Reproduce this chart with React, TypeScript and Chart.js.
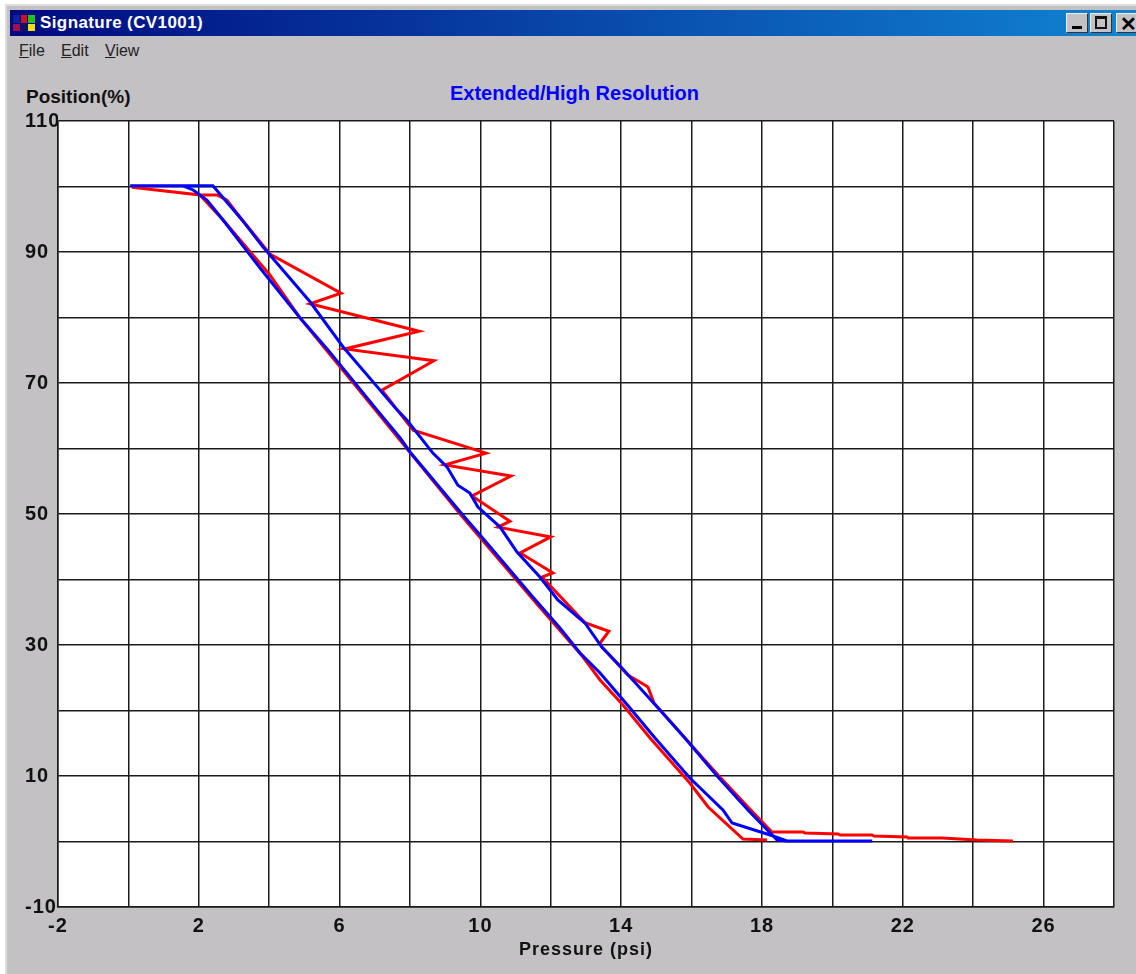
import React, { useEffect, useRef } from "react";
import { Chart, registerables } from "chart.js";

Chart.register(...registerables);

const windowTitle = "Signature (CV1001)";
const menuItems = ["File", "Edit", "View"];
const chartTitle = "Extended/High Resolution";
const yAxisTitle = "Position(%)";
const xAxisTitle = "Pressure (psi)";

const xLabelled = [-2, 2, 6, 10, 14, 18, 22, 26];
const yLabelled = [-10, 10, 30, 50, 70, 90, 110];

const redPressure = [25.13, 24.11, 23.11, 22.15, 22.12, 21.18, 21.13, 20.22, 20.16, 19.22, 19.16, 18.28, 17.6, 16.75, 15.81, 14.93, 14.9, 14.76, 14.48, 14.19, 13.45, 13.4, 13.65, 12.97, 11.75, 12.06, 11.13, 12.0, 10.5, 10.84, 9.76, 10.87, 8.99, 10.16, 8.09, 7.2, 8.68, 6.15, 8.26, 5.16, 6.04, 4.02, 3.17, 2.8, 2.52, 2.03, 0.1, 2.03, 2.69, 4.02, 4.88, 7.06, 9.5, 11.49, 12.91, 13.4, 14.05, 14.82, 15.95, 16.47, 17.46, 18.14];
const redPosition = [0.08, 0.23, 0.53, 0.53, 0.69, 0.84, 0.99, 0.99, 1.15, 1.3, 1.45, 1.45, 5.27, 10.15, 15.8, 21.15, 21.6, 23.6, 24.5, 25.4, 29.7, 30.3, 32.1, 33.4, 40.38, 41, 44.05, 46.5, 48.0, 48.9, 52.75, 55.8, 57.5, 59.3, 62.8, 68.9, 73.4, 75.2, 77.9, 82.1, 83.7, 89.7, 95.3, 97.9, 98.7, 98.7, 99.9, 98.7, 94.9, 86.5, 79.9, 65.6, 49.5, 37, 28.2, 24.66, 20.84, 15.8, 8.93, 5.27, 0.38, 0.23];

const bluePressure = [21.13, 18.71, 18.23, 17.15, 16.89, 15.95, 14.96, 14.25, 13.4, 12.83, 12.26, 11.49, 9.99, 9.5, 8.0, 7.72, 7.06, 5.67, 4.88, 3.74, 2.69, 2.23, 1.84, 1.55, 0.05, 1.55, 2.4, 3.23, 3.82, 5.16, 6.1, 7.63, 7.91, 8.65, 9.05, 9.36, 9.7, 9.93, 10.56, 11.04, 11.69, 12.2, 12.97, 13.45, 14.02, 15.1, 15.81, 16.75, 17.6, 18.43, 18.71];
const bluePosition = [0.08, 0.08, 0.99, 2.82, 4.81, 9.69, 15.8, 20.38, 25.73, 28.78, 32.6, 37.33, 46.8, 49.85, 59.47, 61.6, 65.9, 75.05, 79.92, 87.56, 94.89, 97.94, 99.47, 100.1, 100.1, 100.1, 100.1, 94.9, 90.8, 82.4, 75.5, 65.9, 64.35, 59.3, 57.2, 54.4, 53.2, 51.07, 48.0, 44.2, 40.38, 36.87, 33.36, 29.69, 26.49, 20.08, 15.8, 9.85, 4.81, 0.23, 0.08];

const toPoints = (xs: number[], ys: number[]) => xs.map((x, i) => ({ x, y: ys[i] }));

const FONT = '"Liberation Sans", Arial, sans-serif';
const GRAY = "#c4c1c5";

const plotBackground = {
  id: "plotBackground",
  beforeDraw(chart: any) {
    const { ctx, chartArea: a } = chart;
    ctx.letterSpacing = "1px";
    ctx.save();
    ctx.fillStyle = "#ffffff";
    ctx.fillRect(a.left, a.top, a.right - a.left, a.bottom - a.top);
    ctx.restore();
  },
};

const winButton = (left: number, glyph: React.ReactNode) => (
  <div
    style={{
      position: "absolute",
      left,
      top: 13,
      width: 22,
      height: 20,
      background: GRAY,
      borderTop: "1px solid #eee",
      borderLeft: "1px solid #eee",
      borderRight: "1px solid #333",
      borderBottom: "1px solid #333",
      boxSizing: "border-box",
    }}
  >
    {glyph}
  </div>
);

export default function App() {
  const ref = useRef<HTMLCanvasElement | null>(null);

  useEffect(() => {
    document.body.style.margin = "0";
    const chart = new Chart(ref.current as HTMLCanvasElement, {
      type: "scatter",
      data: {
        datasets: [
          {
            label: "Red",
            data: toPoints(redPressure, redPosition),
            showLine: true,
            borderColor: "#ff0000",
            borderWidth: 3,
            pointRadius: 0,
            tension: 0,
            order: 2,
          },
          {
            label: "Blue",
            data: toPoints(bluePressure, bluePosition),
            showLine: true,
            borderColor: "#0000ff",
            borderWidth: 3,
            pointRadius: 0,
            tension: 0,
            order: 1,
          },
        ],
      },
      options: {
        animation: false,
        responsive: false,
        layout: { padding: { left: 15, right: 22, top: 55, bottom: 0 } },
        plugins: {
          legend: { display: false },
          tooltip: { enabled: false },
          title: { display: false },
        },
        scales: {
          x: {
            type: "linear",
            min: -2,
            max: 28,
            afterFit: (s: any) => {
              s.height = 67;
            },
            ticks: {
              stepSize: 2,
              autoSkip: false,
              maxRotation: 0,
              padding: 7,
              color: "#111",
              font: { family: FONT, size: 20, weight: "bold" },
              callback: (v: any) => (xLabelled.includes(Number(v)) ? String(v) : ""),
            },
            grid: { color: "#1a1a1a", lineWidth: 1.5, drawTicks: false },
            border: { color: "#1a1a1a", width: 1.5 },
            title: {
              display: true,
              text: xAxisTitle,
              color: "#111",
              font: { family: FONT, size: 18, weight: "bold" },
              padding: { top: 0, bottom: 13 },
            },
          },
          y: {
            type: "linear",
            min: -10,
            max: 110,
            afterFit: (s: any) => {
              s.width = 33;
            },
            ticks: {
              stepSize: 10,
              autoSkip: false,
              crossAlign: "far",
              padding: 4,
              color: "#111",
              font: { family: FONT, size: 20, weight: "bold" },
              callback: (v: any) => (yLabelled.includes(Number(v)) ? String(v) : ""),
            },
            grid: { color: "#1a1a1a", lineWidth: 1.5, drawTicks: false },
            border: { color: "#1a1a1a", width: 1.5 },
          },
        },
      },
      plugins: [plotBackground],
    } as any);
    return () => chart.destroy();
  }, []);

  return (
    <div style={{ position: "relative", width: 1136, height: 974, overflow: "hidden", background: GRAY, fontFamily: FONT }}>
      <div style={{ position: "absolute", left: 0, top: 0, width: 1136, height: 4, background: "#ffffff" }} />
      <div style={{ position: "absolute", left: 0, top: 4, width: 1136, height: 2, background: "#dddddd" }} />
      <div style={{ position: "absolute", left: 0, top: 4, width: 5, height: 970, background: "#ffffff" }} />
      <div style={{ position: "absolute", left: 5, top: 4, width: 2, height: 970, background: "#dddddd" }} />
      <div
        style={{
          position: "absolute",
          left: 10,
          top: 10,
          width: 1126,
          height: 26,
          background: "linear-gradient(90deg, #000a80 0%, #1084d0 100%)",
        }}
      />
      <div style={{ position: "absolute", left: 13, top: 15, width: 22, height: 16, display: "grid", gridTemplateColumns: "1fr 1fr 1fr", gap: 1 }}>
        {["#1020a0", "#d01020", "#20c020", "#a01050", "#101060", "#f0e010"].map((c, i) => (
          <div key={i} style={{ background: c }} />
        ))}
      </div>
      <div style={{ position: "absolute", left: 40, top: 13, color: "#fff", fontWeight: "bold", fontSize: 17, letterSpacing: 0.4, whiteSpace: "nowrap" }}>
        {windowTitle}
      </div>
      {winButton(1066, <div style={{ position: "absolute", left: 5, bottom: 3, width: 10, height: 3, background: "#000" }} />)}
      {winButton(1090, <div style={{ position: "absolute", left: 4, top: 2, width: 12, height: 13, border: "2px solid #111", borderTopWidth: 3, boxSizing: "border-box" }} />)}
      {winButton(1116, <div style={{ position: "absolute", left: 3, top: -2, fontSize: 20, fontWeight: "bold", color: "#000" }}>{"\u2715"}</div>)}
      {menuItems.map((m, i) => (
        <div key={m} style={{ position: "absolute", left: [19, 61, 105][i], top: 42, fontSize: 16, color: "#222", whiteSpace: "nowrap" }}>
          <span style={{ textDecoration: "underline" }}>{m[0]}</span>
          {m.slice(1)}
        </div>
      ))}
      <div style={{ position: "absolute", left: 26, top: 86, fontSize: 19, fontWeight: "bold", color: "#111", whiteSpace: "nowrap" }}>
        {yAxisTitle}
      </div>
      <div style={{ position: "absolute", left: 450, top: 82, fontSize: 20, fontWeight: "bold", color: "#0000ff", whiteSpace: "nowrap" }}>
        {chartTitle}
      </div>
      <canvas ref={ref} width={1126} height={908} style={{ position: "absolute", left: 10, top: 66, display: "block" }} />
    </div>
  );
}
